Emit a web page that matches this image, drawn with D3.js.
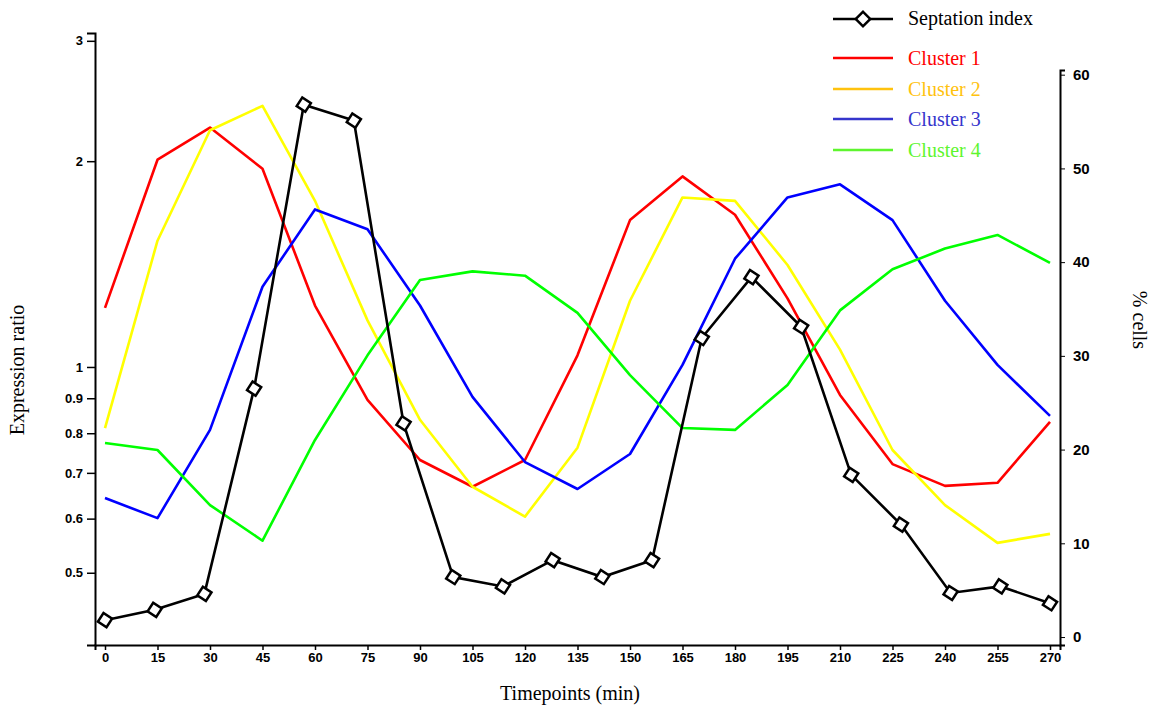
<!DOCTYPE html>
<html>
<head>
<meta charset="utf-8">
<script src="https://cdn.jsdelivr.net/npm/d3@7"></script>
<style>
  html, body { margin: 0; padding: 0; background: #fff; }
  svg { display: block; }
</style>
</head>
<body>
<svg id="chart" width="1156" height="713"></svg>
<script>
// Sampling times (min) for the expression clusters
const timepoints = [0, 15, 30, 45, 60, 75, 90, 105, 120, 135, 150, 165, 180, 195, 210, 225, 240, 255, 270];

// Mean expression ratio of each cluster
const cluster1 = [1.22, 2.01, 2.24, 1.95, 1.23, 0.895, 0.731, 0.668, 0.731, 1.04, 1.64, 1.90, 1.67, 1.26, 0.91, 0.721, 0.670, 0.677, 0.831];
const cluster2 = [0.814, 1.53, 2.22, 2.41, 1.75, 1.17, 0.837, 0.668, 0.604, 0.762, 1.25, 1.77, 1.75, 1.41, 1.06, 0.756, 0.628, 0.553, 0.570];
const cluster3 = [0.643, 0.601, 0.809, 1.31, 1.70, 1.59, 1.23, 0.904, 0.726, 0.663, 0.746, 1.007, 1.44, 1.77, 1.85, 1.64, 1.25, 1.007, 0.848];
const cluster4 = [0.774, 0.756, 0.628, 0.557, 0.782, 1.04, 1.34, 1.38, 1.36, 1.20, 0.973, 0.814, 0.809, 0.941, 1.21, 1.39, 1.49, 1.56, 1.42];

// Septation index (% cells), sampled on its own time grid
const septationTimes = [0, 14.2, 28.4, 42.6, 56.8, 71.1, 85.3, 99.5, 113.7, 127.9, 142.1, 156.3, 170.5, 184.7, 198.9, 213.2, 227.4, 241.6, 255.8, 270];
const septationIndex = [1.8, 2.9, 4.6, 26.5, 56.8, 55.1, 22.8, 6.4, 5.4, 8.2, 6.4, 8.2, 31.9, 38.4, 33.1, 17.3, 12.0, 4.7, 5.4, 3.6];

// Tick labels
const leftTicks = [0.5, 0.6, 0.7, 0.8, 0.9, 1, 2, 3];
const rightTicks = [0, 10, 20, 30, 40, 50, 60];

const clusterNames = ["Cluster 1", "Cluster 2", "Cluster 3", "Cluster 4"];
const clusterSeries = [cluster1, cluster2, cluster3, cluster4];
const lineColors = ["#ff0000", "#ffff00", "#0000ff", "#00ff00"];
const legendColors = ["#ff0000", "#ffc20e", "#3535cc", "#5ef52e"];

const svg = d3.select("#chart");
const sans = "'Liberation Sans', Arial, sans-serif";
const serif = "'Liberation Serif', 'Times New Roman', serif";

const x = d3.scaleLinear().domain([0, 270]).range([105, 1050]);
const yL = d3.scaleLog().domain([0.392, 3.08]).range([645, 33]);
const yR = d3.scaleLinear().domain([-0.85, 60.5]).range([645, 70]);

// Cluster lines
const plot = svg.append("g");
clusterSeries.forEach((vals, i) => {
  const line = d3.line().x((d, j) => x(timepoints[j])).y(d => yL(d));
  plot.append("path")
    .datum(vals)
    .attr("d", line)
    .attr("fill", "none")
    .attr("stroke", lineColors[i])
    .attr("stroke-width", 2.6)
    .attr("stroke-linejoin", "round");
});

// Septation index line with diamond markers
const sepLine = d3.line().x((d, j) => x(septationTimes[j])).y(d => yR(d));
plot.append("path")
  .datum(septationIndex)
  .attr("d", sepLine)
  .attr("fill", "none")
  .attr("stroke", "#000")
  .attr("stroke-width", 2.6);

const diamond = d3.symbol().type(d3.symbolSquare).size(105);
plot.selectAll(".sep-marker")
  .data(septationIndex)
  .join("path")
  .attr("class", "sep-marker")
  .attr("d", diamond)
  .attr("transform", (d, j) => `translate(${x(septationTimes[j])},${yR(d)}) rotate(33)`)
  .attr("fill", "#fff")
  .attr("stroke", "#000")
  .attr("stroke-width", 2.5);

// Left axis (log scale)
const gL = svg.append("g").attr("transform", "translate(95,0)")
  .call(d3.axisLeft(yL).tickValues(leftTicks).tickFormat(d3.format("")).tickSizeOuter(0).tickSize(8).tickPadding(4));
gL.select(".domain").attr("stroke-width", 2);
gL.selectAll(".tick line").attr("stroke-width", 1.5);
gL.selectAll(".tick text").attr("font-family", sans).attr("font-weight", "bold").attr("font-size", 13).attr("fill", "#000");

// Right axis (% cells)
const gR = svg.append("g").attr("transform", "translate(1060,0)")
  .call(d3.axisRight(yR).tickValues(rightTicks).tickSizeOuter(0).tickSize(5).tickPadding(8));
gR.select(".domain").attr("stroke-width", 2);
gR.selectAll(".tick line").attr("stroke-width", 1);
gR.selectAll(".tick text").attr("font-family", sans).attr("font-weight", "bold").attr("font-size", 15).attr("fill", "#000");

// Bottom axis
const xAxisScale = d3.scaleLinear().domain([-2.857, 272.857]).range([95, 1060]);
const gB = svg.append("g").attr("transform", "translate(0,645)")
  .call(d3.axisBottom(xAxisScale).tickValues(timepoints).tickSizeOuter(0).tickSize(5).tickPadding(3));
gB.select(".domain").attr("stroke-width", 2);
gB.selectAll(".tick line").attr("stroke-width", 1.5);
gB.selectAll(".tick text").attr("font-family", sans).attr("font-weight", "bold").attr("font-size", 13).attr("fill", "#000");

// Axis titles
svg.append("text")
  .attr("transform", "translate(24,370) rotate(-90)")
  .attr("text-anchor", "middle")
  .attr("font-family", serif).attr("font-size", 20)
  .text("Expression ratio");

svg.append("text")
  .attr("x", 570).attr("y", 700)
  .attr("text-anchor", "middle")
  .attr("font-family", serif).attr("font-size", 20)
  .text("Timepoints (min)");

svg.append("text")
  .attr("transform", "translate(1133,320) rotate(90)")
  .attr("text-anchor", "middle")
  .attr("font-family", serif).attr("font-size", 20)
  .text("% cells");

// Legend
const legend = svg.append("g");
legend.append("line")
  .attr("x1", 833).attr("x2", 893).attr("y1", 19).attr("y2", 19)
  .attr("stroke", "#000").attr("stroke-width", 2.6);
legend.append("path")
  .attr("d", diamond)
  .attr("transform", "translate(863,19) rotate(45)")
  .attr("fill", "#fff").attr("stroke", "#000").attr("stroke-width", 2.5);
legend.append("text")
  .attr("x", 908).attr("y", 25)
  .attr("font-family", serif).attr("font-size", 20)
  .text("Septation index");

const legendY = [58, 89, 119, 150];
clusterNames.forEach((name, i) => {
  legend.append("line")
    .attr("x1", 833).attr("x2", 893).attr("y1", legendY[i]).attr("y2", legendY[i])
    .attr("stroke", legendColors[i]).attr("stroke-width", 2.6);
  legend.append("text")
    .attr("x", 908).attr("y", legendY[i] + 7)
    .attr("font-family", serif).attr("font-size", 20)
    .attr("fill", legendColors[i])
    .text(name);
});
</script>
</body>
</html>
